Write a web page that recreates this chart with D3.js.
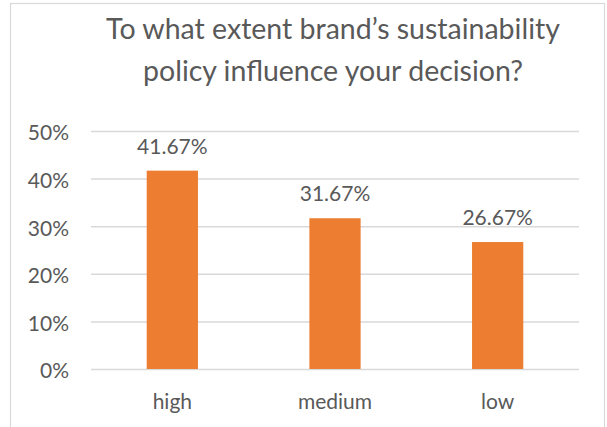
<!DOCTYPE html>
<html>
<head>
<meta charset="utf-8">
<script src="https://cdn.jsdelivr.net/npm/d3@7"></script>
<style>
  html, body { margin: 0; padding: 0; background: #fff; }
  svg { display: block; }
  text { font-family: Lato, "Open Sans", sans-serif; fill: #595959; }
</style>
</head>
<body>
<svg id="chart" width="607" height="427"></svg>
<script>
// Survey answers and their shares
const categories = ["high", "medium", "low"];
const shares = [0.4167, 0.3167, 0.2667];
const tickValues = [0, 0.1, 0.2, 0.3, 0.4, 0.5];
const titleLines = ["To what extent brand\u2019s sustainability", "policy influence your decision?"];

const svg = d3.select("#chart");
const plot = { left: 91, right: 579, top: 131, bottom: 369 };

// Outer frame
svg.append("rect")
  .attr("x", 10.5).attr("y", 3.5)
  .attr("width", 594).attr("height", 440)
  .attr("fill", "#fff").attr("stroke", "#d9d9d9").attr("stroke-width", 1.2);

const x = d3.scaleBand()
  .domain(categories)
  .range([plot.left, plot.right])
  .paddingInner(0.685)
  .paddingOuter(0.3425);

const y = d3.scaleLinear()
  .domain([0, 0.5])
  .range([plot.bottom, plot.top]);

// Gridlines + y tick labels
const yAxis = svg.append("g")
  .attr("transform", `translate(${plot.left},0)`)
  .call(d3.axisLeft(y)
    .tickValues(tickValues)
    .tickFormat(d3.format(".0%"))
    .tickSize(-(plot.right - plot.left))
    .tickPadding(22));
yAxis.select(".domain").remove();
yAxis.selectAll(".tick line").attr("stroke", "#d9d9d9").attr("stroke-width", 1.5);
yAxis.selectAll(".tick text")
  .attr("font-size", 21)
  .attr("dy", "0.42em")
  .style("fill", "#595959");

// Category labels
const xAxis = svg.append("g")
  .attr("transform", `translate(0,${plot.bottom})`)
  .call(d3.axisBottom(x).tickSize(0).tickPadding(20));
xAxis.select(".domain").remove();
xAxis.selectAll(".tick text")
  .attr("font-size", 21)
  .attr("dy", "0.95em")
  .style("fill", "#595959");

const rows = categories.map((c, i) => ({ c, v: shares[i] }));

// Bars
svg.append("g").selectAll("rect")
  .data(rows)
  .join("rect")
  .attr("x", d => x(d.c))
  .attr("y", d => y(d.v))
  .attr("width", x.bandwidth())
  .attr("height", d => y(0) - y(d.v))
  .attr("fill", "#ED7D31");

// Value labels
svg.append("g").selectAll("text")
  .data(rows)
  .join("text")
  .attr("x", d => x(d.c) + x.bandwidth() / 2)
  .attr("y", d => y(d.v) - 17)
  .attr("text-anchor", "middle")
  .attr("font-size", 21)
  .text(d => d3.format(".2%")(d.v));

// Title
svg.append("g").selectAll("text")
  .data(titleLines)
  .join("text")
  .attr("x", 333)
  .attr("y", (d, i) => 38.5 + i * 42.5)
  .attr("text-anchor", "middle")
  .attr("font-size", 28.5)
  .text(d => d);
</script>
</body>
</html>
